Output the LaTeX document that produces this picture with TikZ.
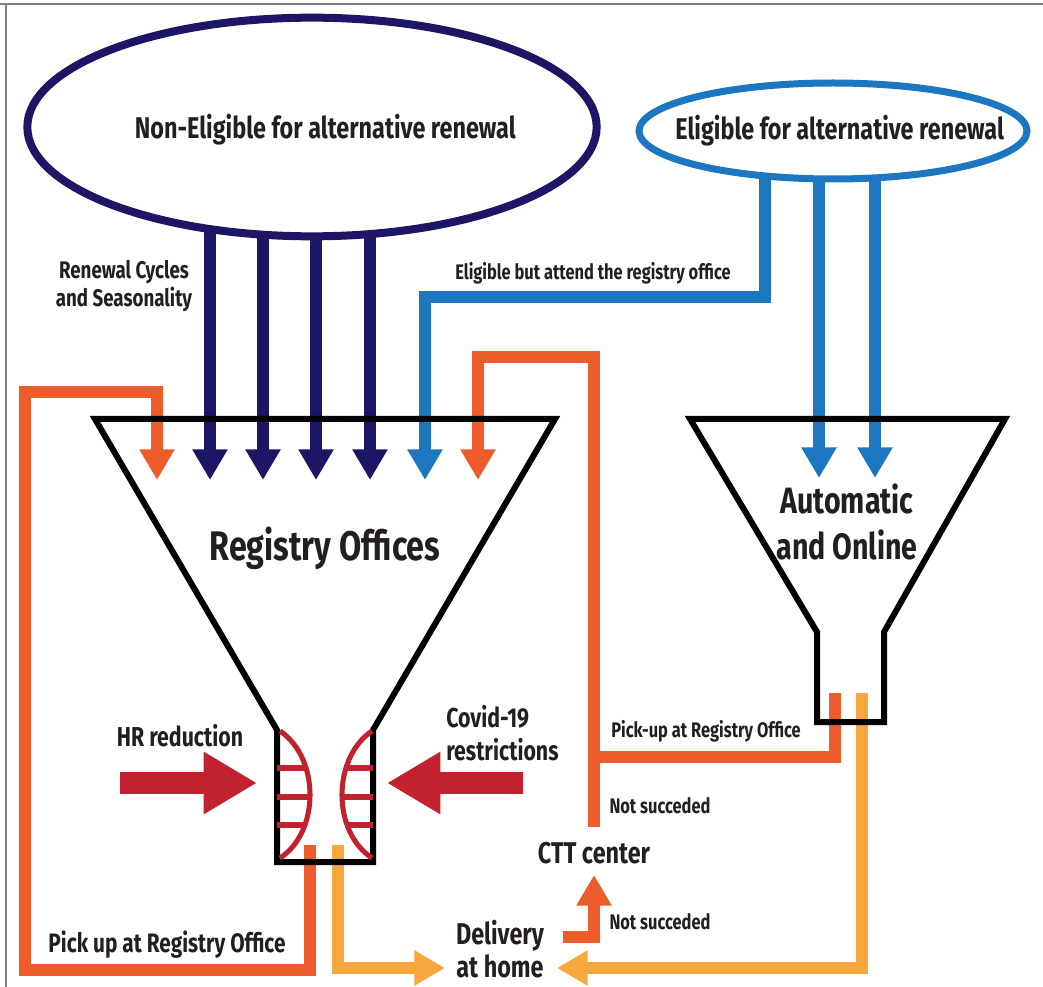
\documentclass[tikz,border=0pt]{standalone}
\usepackage{fontspec}
\setmainfont[FakeStretch=0.78]{Fira Sans}
\usetikzlibrary{arrows.meta,shapes.geometric,positioning}
\pgfdeclarelayer{back}
\pgfsetlayers{back,main}

\definecolor{navyink}{RGB}{28,22,100}
\definecolor{skyink}{RGB}{28,118,192}
\definecolor{flameink}{RGB}{238,92,44}
\definecolor{amberink}{RGB}{247,168,60}
\definecolor{crimsonink}{RGB}{194,34,46}
\definecolor{textink}{RGB}{35,31,32}

\begin{document}
\begin{tikzpicture}[x=0.75pt, y=-0.75pt,
            pool/.style={
                ellipse,
                fill=white,
                inner sep=0pt
            },
            flow/.style={
                line width=9pt,
                line join=miter,
                -{Triangle[width=25pt, length=23pt]}
            },
            pipe/.style={
                line width=9pt,
                line join=miter
            },
            funnel/.style={
                draw=black,
                line width=4.5pt,
                line join=miter
            },
            squeeze/.style={
                crimsonink,
                line width=17pt,
                -{Triangle[width=44pt, length=40pt]}
            },
            lens/.style={
                crimsonink,
                line width=3.8pt
            },
            ttl/.style={font=\bfseries\fontsize{22.5}{26}\selectfont, text=textink, inner sep=0pt},
            mid/.style={font=\bfseries\fontsize{22.5}{25}\selectfont, text=textink, inner sep=0pt, align=center},
            side/.style={font=\bfseries\fontsize{20.5}{25}\selectfont, text=textink, inner sep=0pt, align=center},
            note/.style={font=\bfseries\fontsize{18}{21}\selectfont, text=textink, inner sep=0pt, align=center},
            tag/.style={font=\bfseries\fontsize{15.8}{18}\selectfont, text=textink, inner sep=0pt, align=center}
        ]

        \useasboundingbox (0,0) rectangle (1043,987);

        % edges of the scanned frame
        \draw[gray, line width=1pt] (0,4) -- (1043,4);
        \draw[gray, line width=1pt] (6,4) -- (6,987);

        % Pools of citizens (top)
        \node[pool, draw=navyink, line width=6pt,
            minimum width=427pt, minimum height=164pt
        ] (nonelig) at (312,127) {};
        \node[ttl] at ([xshift=10pt, yshift=-2pt] nonelig.center)
            {Non-Eligible for alternative renewal};

        \node[pool, draw=skyink, line width=5.25pt,
            minimum width=291pt, minimum height=72pt
        ] (elig) at (833,131) {};
        \node[ttl] at ([xshift=5pt] elig.center)
            {Eligible for alternative renewal};

        % Funnels
        \draw[funnel] (95,419) -- (555,419) -- (373,730) -- (373,862)
            -- (277,862) -- (277,730) -- cycle;
        \draw[funnel] (690,419) -- (1005,419) -- (884,632) -- (884,722)
            -- (817,722) -- (817,632) -- cycle;

        % Bottleneck inside the Registry Offices funnel
        \draw[lens] (280,731) .. controls (320,758) and (320,832) .. (280,858);
        \draw[lens] (372,731) .. controls (332,758) and (332,832) .. (372,858);
        \foreach \y/\w in {768/28, 797/33, 825/28} {
            \draw[lens] (277,\y) -- ++(\w,0);
            \draw[lens] (373,\y) -- ++(-\w,0);
        }

        % Labels
        \node[font=\bfseries\fontsize{31}{36}\selectfont, text=textink, inner sep=0pt]
            (regoff) at (325,548) {Registry Offices};
        \node[font=\bfseries\fontsize{27.5}{34}\selectfont, text=textink, inner sep=0pt, align=center]
            (autoonl) at (847,522) {Automatic\\and Online};
        \node[note] (cycles) at (124,286) {Renewal Cycles\\and Seasonality};
        \node[tag] (attend) at (593,273) {Eligible but attend the registry office};
        \node[side] (hr) at (180,736) {HR reduction};
        \node[side, align=left, anchor=west] (covid) at (446,733) {Covid-19\\restrictions};
        \node[tag] (pickupr) at (706,731) {Pick-up at Registry Office};
        \node[tag] (failup) at (660,806) {Not succeded};
        \node[mid] (ctt) at (594,853) {CTT center};
        \node[tag] (faildown) at (660,922) {Not succeded};
        \node[mid] (home) at (500,949) {Delivery\\at home};
        \node[note, font=\bfseries\fontsize{20}{24}\selectfont] (pickupl) at (167,945)
            {Pick up at Registry Office};

        % Pressure on the bottleneck
        \draw[squeeze] (120,783) -- (257,783);
        \draw[squeeze] (523,783) -- (387,783);

        % Inlets and outlets
        \foreach \x [count=\i] in {157,210,263,316,370,425,478}
            \coordinate (ro-in\i) at (\x,480);
        \coordinate (ao-in1) at (819,478);
        \coordinate (ao-in2) at (875,478);
        \coordinate (ro-outa) at (310,845);
        \coordinate (ro-outb) at (338,845);
        \coordinate (ao-outa) at (835,693);
        \coordinate (ao-outb) at (862,693);
        \coordinate (home-l) at (445,968);
        \coordinate (home-r) at (557,968);

        \begin{pgfonlayer}{back}
            % non-eligible: straight into the offices
            \foreach \i in {2,...,5}
                \draw[flow, navyink] (ro-in\i |- nonelig) -- (ro-in\i);
            % eligible: online, or detour to the offices
            \draw[flow, skyink] (ao-in1 |- elig) -- (ao-in1);
            \draw[flow, skyink] (ao-in2 |- elig) -- (ao-in2);
            \draw[flow, skyink] (765,131) -- (765,297) -- (425,297) -- (ro-in6);
            % pick-ups that come back
            \draw[flow, flameink] (ro-outa) -- (310,970) -- (25,970) -- (25,392)
                -- (157,392) -- (ro-in1);
            \draw[pipe, flameink] (ao-outa) -- (835,757) -- (594,757);
            \draw[flow, flameink] (594,827) -- (594,357) -- (478,357) -- (ro-in7);
            \draw[flow, flameink] (563,937) -- (594,937) -- (594,875);
            % deliveries
            \draw[flow, amberink] (ro-outb) -- (338,968) -- (home-l);
            \draw[flow, amberink] (ao-outb) -- (862,968) -- (home-r);
        \end{pgfonlayer}
\end{tikzpicture}
\end{document}
